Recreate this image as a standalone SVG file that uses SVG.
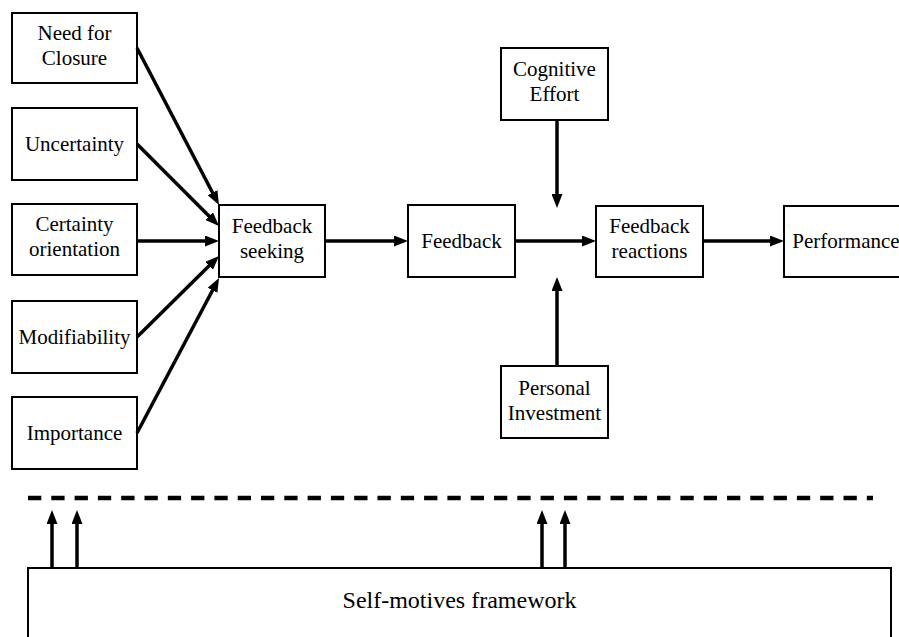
<svg xmlns="http://www.w3.org/2000/svg" width="899" height="637" viewBox="0 0 899 637">
  <style>
    .box { fill: #ffffff; stroke: #000000; stroke-width: 2; }
    .lbl { font-family: "Liberation Serif", Tinos, "Times New Roman", Times, "DejaVu Serif", serif; font-size: 21px; fill: #000000; text-anchor: middle; }
    .big { font-size: 24px; }
    .arr { stroke: #000000; stroke-width: 3.5; fill: none; marker-end: url(#head); }
    .dash { stroke: #000000; stroke-width: 4.5; stroke-dasharray: 13.3 10; fill: none; }
  </style>
  <defs>
    <marker id="head" markerUnits="userSpaceOnUse" markerWidth="14" markerHeight="11" refX="3" refY="5.5" orient="auto">
      <path d="M0,0 L14,5.5 L0,11 z" fill="#000000"/>
    </marker>
  </defs>
  <rect width="899" height="637" fill="#ffffff"/>

  <!-- antecedents -->
  <g id="need-for-closure">
    <rect class="box" x="12" y="13" width="125" height="70"/>
    <text class="lbl" x="74.5" y="40">Need for</text>
    <text class="lbl" x="74.5" y="65">Closure</text>
  </g>
  <g id="uncertainty">
    <rect class="box" x="12" y="108" width="125" height="72"/>
    <text class="lbl" x="74.5" y="151">Uncertainty</text>
  </g>
  <g id="certainty-orientation">
    <rect class="box" x="12" y="204" width="125" height="71"/>
    <text class="lbl" x="74.5" y="231">Certainty</text>
    <text class="lbl" x="74.5" y="256">orientation</text>
  </g>
  <g id="modifiability">
    <rect class="box" x="12" y="301" width="125" height="72"/>
    <text class="lbl" x="74.5" y="344">Modifiability</text>
  </g>
  <g id="importance">
    <rect class="box" x="12" y="397" width="125" height="72"/>
    <text class="lbl" x="74.5" y="440">Importance</text>
  </g>

  <!-- main chain -->
  <g id="feedback-seeking">
    <rect class="box" x="219" y="205" width="106" height="72"/>
    <text class="lbl" x="272" y="233">Feedback</text>
    <text class="lbl" x="272" y="258">seeking</text>
  </g>
  <g id="feedback">
    <rect class="box" x="408" y="205" width="107" height="72"/>
    <text class="lbl" x="461.5" y="248">Feedback</text>
  </g>
  <g id="feedback-reactions">
    <rect class="box" x="596" y="206" width="107" height="71"/>
    <text class="lbl" x="649.5" y="233">Feedback</text>
    <text class="lbl" x="649.5" y="258">reactions</text>
  </g>
  <g id="performance">
    <rect class="box" x="784" y="206" width="124" height="71"/>
    <text class="lbl" x="846" y="248">Performance</text>
  </g>

  <!-- moderators -->
  <g id="cognitive-effort">
    <rect class="box" x="501" y="48" width="107" height="72"/>
    <text class="lbl" x="554.5" y="76">Cognitive</text>
    <text class="lbl" x="554.5" y="101">Effort</text>
  </g>
  <g id="personal-investment">
    <rect class="box" x="501" y="366" width="107" height="72"/>
    <text class="lbl" x="554.5" y="395">Personal</text>
    <text class="lbl" x="554.5" y="420">Investment</text>
  </g>

  <!-- framework -->
  <g id="self-motives-framework">
    <rect class="box" x="28" y="568" width="863" height="90"/>
    <text class="lbl big" x="459.5" y="608">Self-motives framework</text>
  </g>

  <g id="connectors">
    <line class="arr" x1="137" y1="48" x2="213.9" y2="195.3"/>
    <line class="arr" x1="137" y1="144" x2="211.2" y2="218.2"/>
    <line class="arr" x1="137" y1="241" x2="208" y2="241"/>
    <line class="arr" x1="137" y1="337" x2="211.2" y2="263.7"/>
    <line class="arr" x1="137" y1="433" x2="213.9" y2="287.7"/>

    <line class="arr" x1="325" y1="241" x2="397" y2="241"/>
    <line class="arr" x1="515" y1="241" x2="585" y2="241"/>
    <line class="arr" x1="703" y1="241" x2="773" y2="241"/>

    <line class="arr" x1="557" y1="120" x2="557" y2="197"/>
    <line class="arr" x1="557" y1="366" x2="557" y2="288"/>

    <line class="dash" x1="28" y1="498" x2="873" y2="498"/>
    <line class="arr" x1="52" y1="568" x2="52" y2="521"/>
    <line class="arr" x1="77" y1="568" x2="77" y2="521"/>
    <line class="arr" x1="542" y1="568" x2="542" y2="521"/>
    <line class="arr" x1="565" y1="568" x2="565" y2="521"/>
  </g>
</svg>
